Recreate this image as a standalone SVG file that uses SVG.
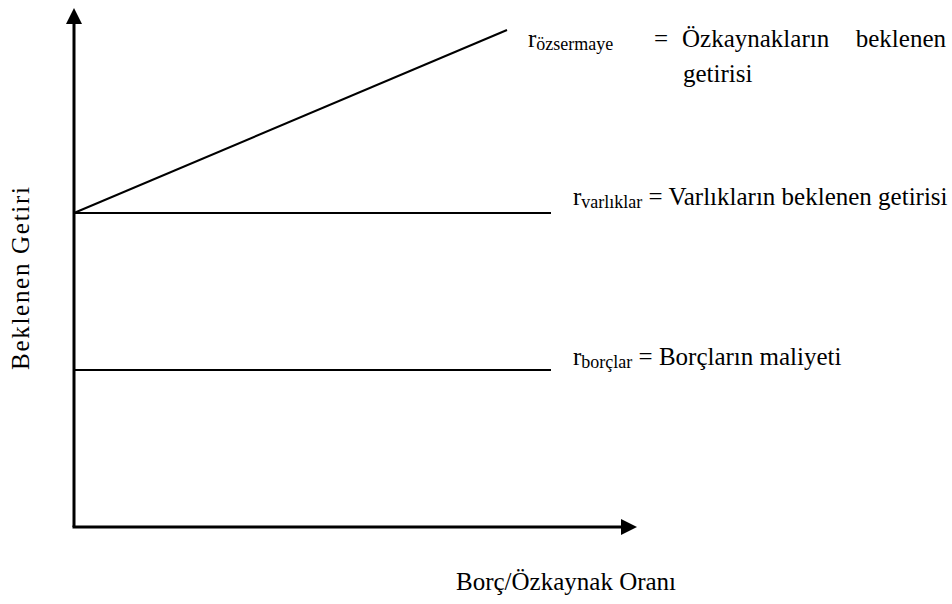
<svg xmlns="http://www.w3.org/2000/svg" width="952" height="604" viewBox="0 0 952 604">
<style>
text{font-family:"Liberation Serif","Times New Roman",serif;fill:#000;}
.main{font-size:25px;}
.sub{font-size:18px;}
.axis{stroke:#000;stroke-width:3;fill:none;}
.ln{stroke:#000;stroke-width:2;fill:none;}
</style>
<defs>
<marker id="ah" viewBox="0 0 16 16" refX="2" refY="8" markerWidth="16" markerHeight="16" markerUnits="userSpaceOnUse" orient="auto">
<path d="M0,0 L16,8 L0,16 Z" fill="#000"/>
</marker>
</defs>
<rect width="952" height="604" fill="#fff"/>
<g id="connectors">
<path class="axis" d="M74,527 V22" marker-end="url(#ah)"/>
<path class="axis" d="M72.5,527 H623" marker-end="url(#ah)"/>
<path class="ln" d="M74,213 L507,30"/>
<path class="ln" d="M74,213 H551"/>
<path class="ln" d="M74,370 H551"/>
</g>
<g id="label-ozsermaye">
<text class="main" y="47"><tspan x="528">r</tspan><tspan class="sub" dy="3">özsermaye</tspan></text>
<text class="main" x="654" y="47">=</text>
<text class="main" x="682" y="47">Özkaynakların</text>
<text class="main" x="946" y="47" text-anchor="end">beklenen</text>
<text class="main" x="683" y="82">getirisi</text>
</g>
<g id="label-varliklar">
<text class="main" x="573" y="205">r<tspan class="sub" dy="3">varlıklar</tspan><tspan dy="-3"> = Varlıkların beklenen getirisi</tspan></text>
</g>
<g id="label-borclar">
<text class="main" x="573" y="365">r<tspan class="sub" dy="3">borçlar</tspan><tspan dy="-3"> = Borçların maliyeti</tspan></text>
</g>
<g id="label-x">
<text class="main" x="456" y="590">Borç/Özkaynak Oranı</text>
</g>
<g id="label-y">
<text class="main" transform="translate(29,370) rotate(-90)" textLength="183" lengthAdjust="spacing">Beklenen Getiri</text>
</g>
</svg>
